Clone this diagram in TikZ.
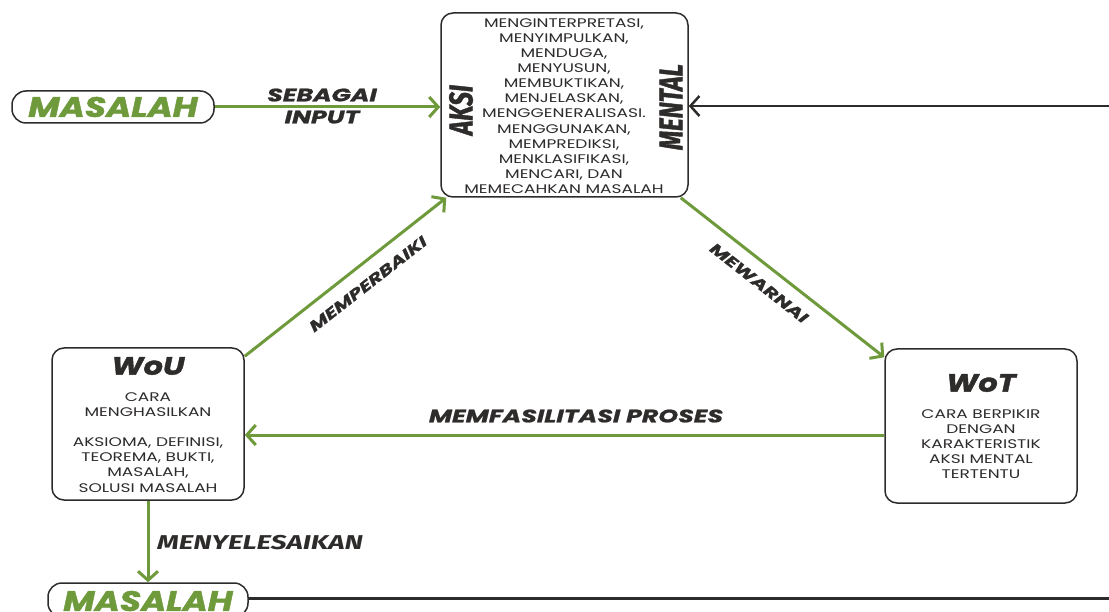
\documentclass[tikz,border=0pt]{standalone}
\usepackage{fontspec}
\setmainfont{Poppins}
\newfontfamily\bodyfont{Poppins}[FakeStretch=1.36]
\newfontfamily\lblfont{Poppins}[FakeStretch=1.4, BoldItalicFeatures={FakeBold=1.2}]
\newfontfamily\ttlfont{Poppins}[FakeStretch=1.22, BoldItalicFeatures={FakeBold=1.6}]
\newfontfamily\condfont{Fira Sans}[FakeStretch=0.74, BoldItalicFeatures={FakeBold=1.2}]
\newfontfamily\selfont{Fira Sans}[FakeStretch=1.4]
\usetikzlibrary{arrows.meta,calc}
\definecolor{grn}{HTML}{6E9A3C}
\definecolor{drk}{HTML}{2E2B2B}
\begin{document}
\begin{tikzpicture}[x=1pt,y=-1pt,
  box/.style={draw=drk, line width=1.5pt, rounded corners=12pt, fill=white, inner sep=0pt},
  pill/.style={draw=drk, line width=1.5pt, rounded corners=14pt, fill=white, inner sep=0pt},
  ga/.style={draw=grn, line width=3pt, -{Straight Barb[length=9pt,width=20pt,line width=3pt]}},
  da/.style={draw=drk, line width=2pt, -{Straight Barb[length=9pt,width=20pt,line width=2.5pt]}},
  dl/.style={draw=drk, line width=3pt},
  mas/.style={text=grn, font=\ttlfont\fontsize{28}{28}\selectfont\bfseries\itshape, inner sep=0pt},
  lbl/.style={text=drk, font=\lblfont\fontsize{18}{22}\selectfont\bfseries\itshape, align=center, inner sep=0pt},
  slbl/.style={text=drk, font=\lblfont\fontsize{15}{15}\selectfont\bfseries\itshape, inner sep=0pt},
  body/.style={text=drk, font=\bodyfont\fontsize{12.5}{15.1}\selectfont, align=center, inner sep=0pt},
  ttl/.style={text=drk, font=\ttlfont\fontsize{25}{25}\selectfont\bfseries\itshape, inner sep=0pt},
  vert/.style={text=drk, font=\condfont\fontsize{33}{33}\selectfont\bfseries\itshape, inner sep=0pt, rotate=90}
]
\useasboundingbox (0,0) rectangle (1109,612);
\clip (0,0) rectangle (1109,612);

% boxes
\node[pill, minimum width=202pt, minimum height=32pt] (mas1) at (113,107) {};
\node[mas] (mas1t) at (113,107) {MASALAH};

\node[box, minimum width=247pt, minimum height=184pt] (aksi) at (564.5,105) {};
\node[body] (list) at (564,106) {MENGINTERPRETASI,\\MENYIMPULKAN,\\MENDUGA,\\MENYUSUN,\\MEMBUKTIKAN,\\MENJELASKAN,\\MENGGENERALISASI.\\MENGGUNAKAN,\\MEMPREDIKSI,\\MENKLASIFIKASI,\\MENCARI, DAN\\MEMECAHKAN MASALAH};
\node[vert] (aksit) at (461,110) {AKSI};
\node[vert] (mentalt) at (671,107) {MENTAL};

\node[box, minimum width=192pt, minimum height=152pt] (wou) at (148,424) {};
\node[ttl] (wout) at (148,366) {WoU};
\node[body] (woub1) at (148,405) {CARA\\MENGHASILKAN};
\node[body] (woub2) at (148,465) {AKSIOMA, DEFINISI,\\TEOREMA, BUKTI,\\MASALAH,\\SOLUSI MASALAH};

\node[box, minimum width=192pt, minimum height=154pt] (wot) at (981,426) {};
\node[ttl] (wott) at (981,383) {WoT};
\node[body] (wotb) at (981,444) {CARA BERPIKIR\\DENGAN\\KARAKTERISTIK\\AKSI MENTAL\\TERTENTU};

\node[pill, minimum width=200pt, minimum height=34pt] (mas2) at (148,600) {};
\node[mas] (mas2t) at (148,601) {MASALAH};

% connectors
\draw[ga] (mas1.east) -- (mas1.east -| aksi.west);
\node[lbl] (inl) at (322,106) {SEBAGAI\\INPUT};

\coordinate (rin) at (1109,106);
\draw[da] (rin) -- (rin -| aksi.east);

\draw[ga] ($(wou.north east)+(0,9)$) -- ($(aksi.south west)+(6,0)$);
\node[slbl, rotate=38] (perb) at (368,284) {MEMPERBAIKI};

\draw[ga] ($(aksi.south east)+(-8,0)$) -- ($(wot.north west)+(0,9)$);
\node[slbl, rotate=-38] (warn) at (759,283) {MEWARNAI};

\coordinate (mf) at ($(wot.west)+(0,9)$);
\draw[ga] (mf) -- (mf -| wou.east);
\node[lbl] (fas) at (576,416) {MEMFASILITASI PROSES};

\draw[ga] (wou.south) -- (mas2.north);
\node[anchor=west, text=drk, inner sep=0pt, font=\selfont\fontsize{20}{20}\selectfont\bfseries\itshape] (sel) at (157,543) {MENYELESAIKAN};

\coordinate (rout) at (1109,598);
\draw[dl] (mas2.east |- rout) -- (rout);
\end{tikzpicture}
\end{document}
